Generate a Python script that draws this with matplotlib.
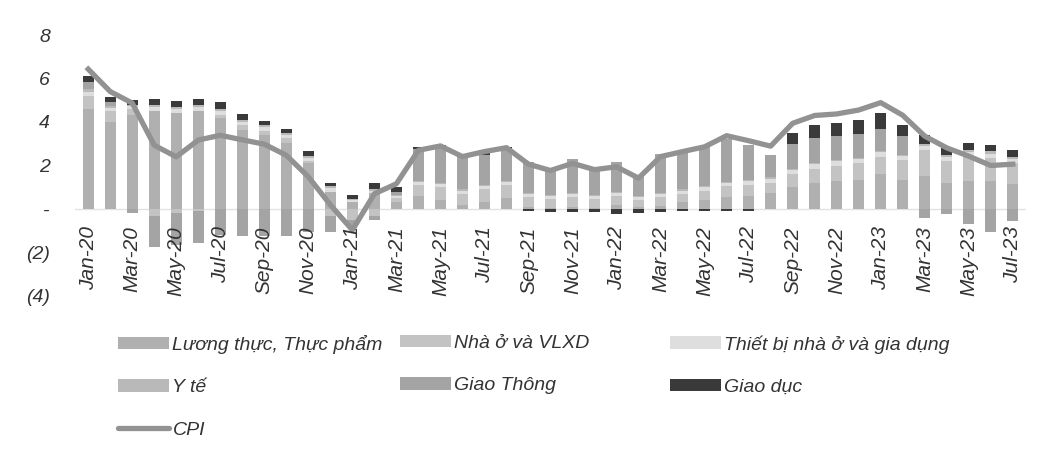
import matplotlib
matplotlib.use("Agg")
import matplotlib.pyplot as plt
import numpy as np
from matplotlib.patches import Patch
from matplotlib.lines import Line2D

plt.rcParams["font.family"] = ["Liberation Sans", "DejaVu Sans"]
plt.rcParams["font.style"] = "italic"

months = [
    "Jan-20", "Feb-20", "Mar-20", "Apr-20", "May-20", "Jun-20", "Jul-20", "Aug-20",
    "Sep-20", "Oct-20", "Nov-20", "Dec-20", "Jan-21", "Feb-21", "Mar-21", "Apr-21",
    "May-21", "Jun-21", "Jul-21", "Aug-21", "Sep-21", "Oct-21", "Nov-21", "Dec-21",
    "Jan-22", "Feb-22", "Mar-22", "Apr-22", "May-22", "Jun-22", "Jul-22", "Aug-22",
    "Sep-22", "Oct-22", "Nov-22", "Dec-22", "Jan-23", "Feb-23", "Mar-23", "Apr-23",
    "May-23", "Jun-23", "Jul-23",
]

# contributions to CPI (percentage points)
luong_thuc = [4.6, 4.0, 4.3, 4.5, 4.4, 4.5, 4.2, 3.65, 3.4, 3.05, 2.1, 0.8, 0.3, 0.75, 0.3, 0.6,
              0.4, 0.2, 0.3, 0.5, 0.1, 0.05, 0.1, 0.05, 0.2, 0.1, 0.15, 0.3, 0.4, 0.55, 0.6, 0.75,
              1.0, 1.2, 1.3, 1.35, 1.6, 1.35, 1.5, 1.2, 1.3, 1.3, 1.15]
nha_o = [0.6, 0.5, 0.3, -0.3, -0.2, -0.1, 0.1, 0.2, 0.2, 0.2, 0.1, -0.3, -0.5, -0.3, 0.2, 0.5,
         0.6, 0.5, 0.6, 0.6, 0.45, 0.4, 0.45, 0.4, 0.4, 0.3, 0.4, 0.4, 0.45, 0.5, 0.5, 0.45,
         0.6, 0.65, 0.7, 0.75, 0.8, 0.9, 1.2, 1.0, 1.1, 1.05, 0.95]
thiet_bi = [0.2, 0.15, 0.15, 0.2, 0.2, 0.2, 0.2, 0.15, 0.15, 0.15, 0.15, 0.15, 0.1, 0.1, 0.1, 0.15,
            0.15, 0.15, 0.15, 0.15, 0.15, 0.15, 0.15, 0.15, 0.15, 0.15, 0.15, 0.15, 0.15, 0.15, 0.2, 0.2,
            0.2, 0.2, 0.2, 0.2, 0.2, 0.2, 0.2, 0.2, 0.2, 0.2, 0.2]
y_te = [0.1, 0.1, 0.05, 0.1, 0.1, 0.1, 0.1, 0.1, 0.1, 0.1, 0.1, 0.1, 0.05, 0.05, 0.05, 0.05,
        0.05, 0.05, 0.05, 0.05, 0.05, 0.05, 0.05, 0.05, 0.05, 0.05, 0.05, 0.05, 0.05, 0.05, 0.05, 0.05,
        0.05, 0.05, 0.05, 0.05, 0.05, 0.05, 0.1, 0.1, 0.1, 0.1, 0.1]
giao_thong = [0.35, 0.15, -0.2, -1.45, -1.45, -1.45, -1.2, -1.25, -1.25, -1.25, -1.05, -0.75, -0.3, -0.2, 0.15, 1.45,
              1.65, 1.55, 1.4, 1.5, 1.4, 1.25, 1.55, 1.25, 1.35, 0.95, 1.8, 1.7, 1.8, 1.95, 1.6, 1.05,
              1.15, 1.15, 1.1, 1.1, 1.05, 0.85, -0.4, -0.25, -0.7, -1.05, -0.55]
giao_duc = [0.25, 0.25, 0.2, 0.25, 0.25, 0.25, 0.3, 0.25, 0.2, 0.2, 0.2, 0.15, 0.2, 0.3, 0.2, 0.1,
            0.1, 0.1, 0.1, 0.05, -0.1, -0.15, -0.15, -0.15, -0.25, -0.2, -0.15, -0.1, -0.1, -0.1, -0.1, 0.0,
            0.5, 0.6, 0.6, 0.65, 0.7, 0.5, 0.4, 0.3, 0.35, 0.3, 0.3]
cpi = [6.43, 5.40, 4.87, 2.93, 2.40, 3.17, 3.39, 3.18, 2.98, 2.47, 1.48, 0.19, -0.97, 0.70, 1.16, 2.70,
       2.90, 2.41, 2.64, 2.82, 2.06, 1.77, 2.10, 1.81, 1.94, 1.42, 2.41, 2.64, 2.86, 3.37, 3.14, 2.89,
       3.94, 4.30, 4.37, 4.55, 4.89, 4.31, 3.35, 2.81, 2.43, 2.00, 2.06]

series = [
    ("Lương thực, Thực phẩm", luong_thuc, "#b0b0b0"),
    ("Nhà ở và VLXD", nha_o, "#c3c3c3"),
    ("Thiết bị nhà ở và gia dụng", thiet_bi, "#dedede"),
    ("Y tế", y_te, "#b9b9b9"),
    ("Giao Thông", giao_thong, "#a4a4a4"),
    ("Giao dục", giao_duc, "#3a3a3a"),
]
cpi_color = "#929292"

fig = plt.figure(figsize=(10.42, 4.59), dpi=100)
ax = fig.add_axes([75 / 1042, 1 - 296 / 459, 951 / 1042, 261 / 459])

x = np.arange(len(months))
pos_base = np.zeros(len(months))
neg_base = np.zeros(len(months))
for name, vals, col in series:
    v = np.asarray(vals, dtype=float)
    pos = np.where(v > 0, v, 0)
    neg = np.where(v < 0, v, 0)
    ax.bar(x, pos, 0.5, bottom=pos_base, color=col, lw=0, zorder=2)
    ax.bar(x, neg, 0.5, bottom=neg_base, color=col, lw=0, zorder=2)
    pos_base += pos
    neg_base += neg

ax.plot(x, cpi, color=cpi_color, lw=3.8, solid_joinstyle="round", zorder=3)
ax.axhline(0, color="#e2e2e2", lw=1, zorder=1)

ax.set_xlim(-0.6, len(months) - 0.4)
ax.set_ylim(-4, 8)
ax.set_xticks([])
ax.set_yticks([-4, -2, 0, 2, 4, 6, 8])
ax.set_yticklabels(["(4)", "(2)", "-", "2", "4", "6", "8"], fontsize=14, color="#333333")
ax.tick_params(axis="y", length=0, pad=18)
for s in ax.spines.values():
    s.set_visible(False)

for i in range(0, len(months), 2):
    ax.text(x[i], -0.8, months[i], rotation=90, ha="center", va="top",
            fontsize=15, color="#333333")

# legend: three columns placed like the original
handles = {name: Patch(facecolor=col, edgecolor="none") for name, _, col in series}
cpi_handle = Line2D([], [], color=cpi_color, lw=3.8, solid_capstyle="round")
cols = [
    (118, [("Lương thực, Thực phẩm", handles["Lương thực, Thực phẩm"]),
           ("Y tế", handles["Y tế"]), ("CPI", cpi_handle)]),
    (400, [("Nhà ở và VLXD", handles["Nhà ở và VLXD"]),
           ("Giao Thông", handles["Giao Thông"])]),
    (670, [("Thiết bị nhà ở và gia dụng", handles["Thiết bị nhà ở và gia dụng"]),
           ("Giao dục", handles["Giao dục"])]),
]
for px, items in cols:
    fig.legend([h for _, h in items], [t for t, _ in items], loc="upper left",
               bbox_to_anchor=(px / 1042, 1 - 335 / 459), frameon=False, fontsize=14,
               handlelength=2.6, handleheight=0.6, handletextpad=0.2, labelspacing=1.3,
               borderpad=0, borderaxespad=0, labelcolor="#333333")

fig.savefig("out.png", dpi=100, facecolor="white")
